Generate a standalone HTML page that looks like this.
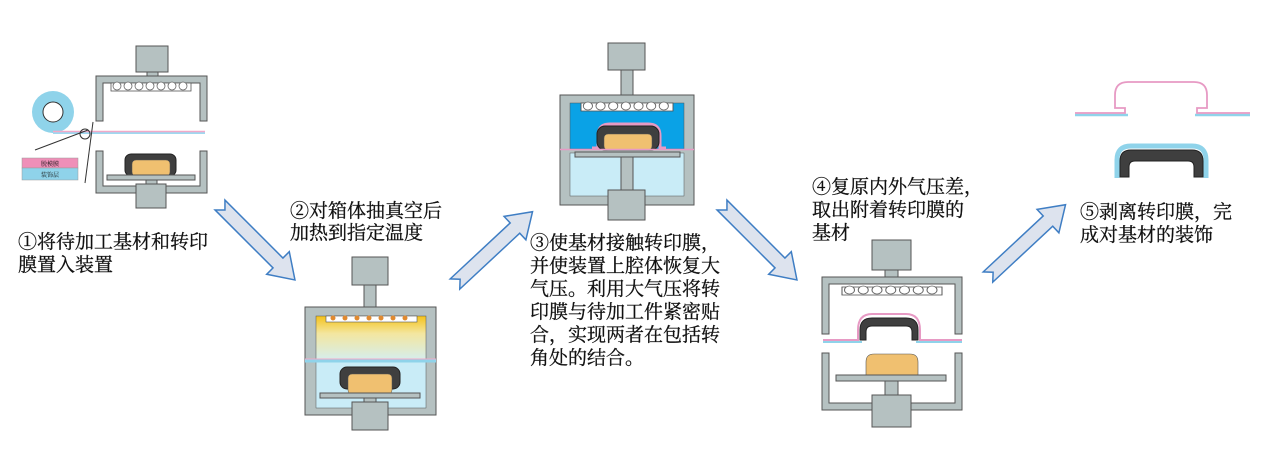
<!DOCTYPE html>
<html><head><meta charset="utf-8"><style>
html,body{margin:0;padding:0;background:#fff;width:1280px;height:453px;overflow:hidden}
svg{display:block}
text{font-family:"Liberation Serif","Noto Serif CJK SC","Noto Sans CJK SC",serif;font-size:19px;fill:#111;stroke:#111;stroke-width:0.3}
text.s{font-size:6px;stroke-width:0}
.g{fill:#b5c1c1;stroke:#555;stroke-width:1}
.ar{fill:#dde3ee;stroke:#3f7ec4;stroke-width:1.5}
</style></head><body>
<svg width="1280" height="453" viewBox="0 0 1280 453" xmlns="http://www.w3.org/2000/svg">
<defs>
<g id="arrow"><polygon class="ar" points="0,-7 82,-7 82,-16 106,0 82,16 82,7 0,7 7,0"/></g>
<g id="heat"><rect x="0" y="0" width="80" height="8" fill="#fff" stroke="#555" stroke-width="0.8"/>
<g fill="#fff" stroke="#666" stroke-width="0.8"><circle cx="6" cy="3" r="4"/><circle cx="17" cy="3" r="4"/><circle cx="28" cy="3" r="4"/><circle cx="39" cy="3" r="4"/><circle cx="50" cy="3" r="4"/><circle cx="61" cy="3" r="4"/><circle cx="72" cy="3" r="4"/></g></g>
<linearGradient id="yg" x1="0" y1="0" x2="0" y2="1"><stop offset="0" stop-color="#f5c21a"/><stop offset="0.4" stop-color="#f3e6a0"/><stop offset="1" stop-color="#d5eeee"/></linearGradient>
</defs>

<!-- Diagram 1 -->
<rect class="g" x="136" y="46" width="32" height="26"/>
<rect class="g" x="147" y="72" width="11" height="5"/>
<path class="g" d="M96,76 H207 V121 H200 V83 H103 V121 H96 Z"/>
<use href="#heat" x="111" y="83"/>
<circle cx="53" cy="112" r="21" fill="#8fd3ea"/>
<circle cx="53" cy="112" r="10" fill="#fff" stroke="#333"/>
<line x1="53" y1="133" x2="205" y2="133" stroke="#9fd8f0" stroke-width="2"/>
<line x1="53" y1="131.5" x2="205" y2="131.5" stroke="#f2a9c8" stroke-width="1.5"/>
<circle cx="85" cy="134" r="5" fill="none" stroke="#333"/>
<line x1="35" y1="150" x2="88" y2="130" stroke="#333"/>
<line x1="93" y1="122" x2="85" y2="183" stroke="#333"/>
<rect x="22" y="158" width="56" height="10" fill="#ef8fb8" stroke="#999" stroke-width="0.5"/>
<rect x="22" y="168" width="56" height="12" fill="#8fd3ea" stroke="#999" stroke-width="0.5"/>
<text class="s" x="50" y="166" text-anchor="middle">脱模膜</text>
<text class="s" x="50" y="177" text-anchor="middle">装饰层</text>
<path class="g" d="M96,151 H103 V186 H200 V151 H207 V193 H96 Z"/>
<rect x="125" y="154" width="51" height="22" rx="6" fill="#3f3f3f" stroke="#222"/>
<rect x="132" y="160" width="38" height="16" rx="4" fill="#f0c070" stroke="#555" stroke-width="0.5"/>
<rect class="g" x="107" y="175" width="88" height="5"/>
<rect class="g" x="146" y="180" width="11" height="5"/>
<rect class="g" x="136" y="184" width="30" height="24"/>
<text x="18" y="248">①将待加工基材和转印</text>
<text x="18" y="271">膜置入装置</text>

<use href="#arrow" transform="translate(220,205) rotate(45)"/>

<!-- Diagram 2 -->
<rect class="g" x="352" y="257" width="36" height="28"/>
<rect class="g" x="364" y="285" width="12" height="23"/>
<rect class="g" x="305" y="307" width="131" height="108"/>
<rect x="316" y="316" width="110" height="44" fill="url(#yg)" stroke="#555" stroke-width="0.5"/>
<rect x="316" y="360" width="110" height="48" fill="#c9ecf7" stroke="#555" stroke-width="0.5"/>
<line x1="305" y1="361" x2="436" y2="361" stroke="#8fd3ea" stroke-width="3"/>
<line x1="305" y1="359" x2="436" y2="359" stroke="#f2a9c8" stroke-width="1"/>
<rect x="326" y="316" width="91" height="6" fill="#fff" stroke="#555" stroke-width="0.6"/>
<g fill="#e08a30"><circle cx="333" cy="318" r="2.5"/><circle cx="345" cy="318" r="2.5"/><circle cx="357" cy="318" r="2.5"/><circle cx="369" cy="318" r="2.5"/><circle cx="381" cy="318" r="2.5"/><circle cx="393" cy="318" r="2.5"/><circle cx="405" cy="318" r="2.5"/></g>
<rect x="340" y="367" width="60" height="22" rx="7" fill="#3f3f3f" stroke="#222"/>
<rect x="348" y="374" width="44" height="20" rx="4" fill="#f0c070" stroke="#555" stroke-width="0.5"/>
<rect class="g" x="320" y="393" width="100" height="5"/>
<rect class="g" x="364" y="398" width="12" height="6"/>
<rect class="g" x="352" y="402" width="36" height="28"/>
<text x="290" y="217">②对箱体抽真空后</text>
<text x="290" y="239">加热到指定温度</text>

<use href="#arrow" transform="translate(455,284) rotate(-43)"/>

<!-- Diagram 3 -->
<rect class="g" x="608" y="43" width="37" height="27"/>
<rect class="g" x="621" y="70" width="12" height="25"/>
<rect class="g" x="560" y="95" width="134" height="110"/>
<rect x="570" y="103" width="114" height="46" fill="#0aa2e6" stroke="#555" stroke-width="0.5"/>
<rect x="570" y="153" width="114" height="43" fill="#c9ecf7" stroke="#555" stroke-width="0.5"/>
<use href="#heat" x="581" y="103" transform="translate(581,103) scale(1.15,1) translate(-581,-103)"/>
<path d="M592,148 H598 V136 Q598,124 610,124 H648 Q660,124 660,136 V148 H666" fill="none" stroke="#e79ac4" stroke-width="3"/>
<rect x="597" y="126" width="62" height="24" rx="8" fill="#3f3f3f" stroke="#222"/>
<rect x="604" y="134" width="48" height="16" rx="4" fill="#f0c070" stroke="#555" stroke-width="0.5"/>
<line x1="560" y1="149.5" x2="694" y2="149.5" stroke="#e79ac4" stroke-width="1.5"/>
<rect class="g" x="575" y="152" width="105" height="5"/>
<rect class="g" x="621" y="157" width="12" height="35"/>
<rect class="g" x="608" y="190" width="37" height="30"/>
<text x="530" y="249">③使基材接触转印膜，</text>
<text x="530" y="272">并使装置上腔体恢复大</text>
<text x="530" y="295">气压。利用大气压将转</text>
<text x="530" y="318">印膜与待加工件紧密贴</text>
<text x="530" y="341">合，实现两者在包括转</text>
<text x="530" y="364">角处的结合。</text>

<use href="#arrow" transform="translate(722,205) rotate(45)"/>

<!-- Diagram 4 -->
<rect class="g" x="872" y="240" width="39" height="30"/>
<rect class="g" x="885" y="270" width="13" height="8"/>
<path class="g" d="M822,277 H962 V334 H955 V284 H829 V334 H822 Z"/>
<use href="#heat" x="842" y="287" transform="translate(842,287) scale(1.25,1) translate(-842,-287)"/>
<path d="M823,340 H858 V330 Q858,314 872,314 H906 Q920,314 920,330 V340 H962" fill="none" stroke="#e79ac4" stroke-width="2"/>
<line x1="823" y1="342" x2="862" y2="342" stroke="#8fd3ea" stroke-width="2"/>
<line x1="916" y1="342" x2="962" y2="342" stroke="#8fd3ea" stroke-width="2"/>
<path d="M860,340 V330 Q860,318 872,318 H906 Q918,318 918,330 V340 H912 V332 Q912,326 906,326 H872 Q866,326 866,332 V340 Z" fill="#3f3f3f" stroke="#222"/>
<path class="g" d="M822,353 H829 V403 H955 V353 H962 V410 H822 Z"/>
<path d="M866,376 V362 Q866,354 874,354 H910 Q918,354 918,362 V376 Z" fill="#f0c070" stroke="#555" stroke-width="0.6"/>
<rect class="g" x="836" y="375" width="110" height="6"/>
<rect class="g" x="885" y="381" width="13" height="16"/>
<rect class="g" x="872" y="395" width="39" height="32"/>
<text x="812" y="193">④复原内外气压差，</text>
<text x="812" y="216">取出附着转印膜的</text>
<text x="812" y="239">基材</text>

<use href="#arrow" transform="translate(988,277) rotate(-43)"/>

<!-- Diagram 5 -->
<line x1="1075" y1="115" x2="1128" y2="115" stroke="#8fd3ea" stroke-width="2.5"/>
<line x1="1195" y1="115" x2="1250" y2="115" stroke="#8fd3ea" stroke-width="2.5"/>
<path d="M1075,113 H1125 V108 H1115 V95 Q1115,82 1128,82 H1194 Q1207,82 1207,95 V108 H1197 V113 H1250" fill="none" stroke="#e79ac4" stroke-width="1.8"/>
<path d="M1117,178 V160 Q1117,146 1131,146 H1192 Q1206,146 1206,160 V178" fill="none" stroke="#8fd3ea" stroke-width="5"/>
<path d="M1120,177 V161 Q1120,150 1131,150 H1192 Q1203,150 1203,161 V177 H1194 V167 Q1194,161 1188,161 H1135 Q1129,161 1129,167 V177 Z" fill="#3f3f3f" stroke="#222"/>
<text x="1080" y="218">⑤剥离转印膜，完</text>
<text x="1080" y="241">成对基材的装饰</text>
</svg>
</body></html>
